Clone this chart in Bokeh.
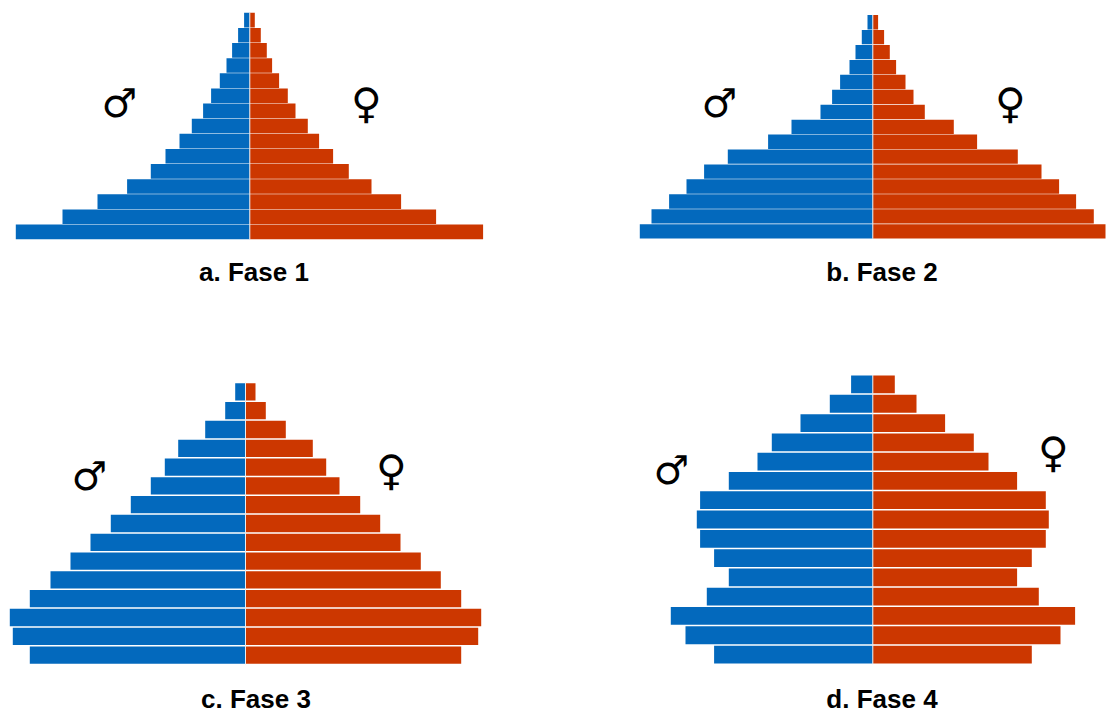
from bokeh.plotting import figure
from bokeh.layouts import column, row
from bokeh.models import Range1d, Label
from bokeh.embed import file_html
from bokeh.resources import INLINE

# Age rows listed from oldest (top) to youngest (bottom)
fase1_male = [5.7, 11.7, 17.7, 23.3, 30, 38.7, 46.7, 58, 70.3, 84.3, 99, 122.7, 152.3, 187.3, 234]
fase1_female = [5, 11, 17, 22.3, 29.3, 38, 45.7, 58, 69.3, 83.3, 99, 121.7, 151.3, 186.3, 233.3]
fase2_male = [5.3, 11, 17.3, 23.3, 32.7, 40.7, 52.3, 81.3, 104.7, 145, 168.7, 186.3, 203.7, 221.3, 233]
fase2_female = [5.3, 11.3, 17, 23.3, 32.7, 40.7, 52, 81, 104.3, 145, 168.7, 186.3, 203.3, 221, 232.7]
fase3_male = [10.3, 20.3, 40.3, 67.3, 80.7, 94.7, 114.7, 134.7, 155, 175, 195, 215.7, 235.7, 232.7, 215.7]
fase3_female = [10, 20.3, 40.3, 67.3, 80.7, 94, 114.7, 134.7, 155, 175.3, 195.3, 215.7, 235.7, 232.7, 215.7]
fase4_male = [21.7, 43, 72.3, 101, 115.3, 144, 172.7, 176, 172.7, 158.7, 144, 166, 202, 187.3, 158.7]
fase4_female = [22, 43.7, 72.3, 101, 115.7, 144.3, 173, 176, 173, 159, 144.3, 166, 202.3, 187.7, 159]
titles = ["a. Fase 1", "b. Fase 2", "c. Fase 3", "d. Fase 4"]
BLUE = "#0369BD"
RED = "#CC3700"
SEP = "#E9EEF2"


def panel(male, female, title, left, top, w, h, cx, ytop, ybot, gap, tx, ty, mx, my, fx, fy):
    n = len(male)
    step = (ybot - ytop) / n
    rows = list(range(n - 1, -1, -1))
    y0 = -0.5 - (top + h - ybot) / step
    p = figure(width=w, height=h, output_backend="svg", toolbar_location=None,
               x_range=Range1d(left - cx, left + w - cx),
               y_range=Range1d(y0, y0 + h / step),
               min_border=0, outline_line_color=None, background_fill_color="white")
    p.axis.visible = False
    p.grid.visible = False
    bh = 1 - gap / step
    p.hbar(y=rows, left=[-v for v in male], right=0, height=bh, fill_color=BLUE, line_color=None)
    p.hbar(y=rows, left=0, right=female, height=bh, fill_color=RED, line_color=None)
    p.segment(x0=[0], x1=[0], y0=[-0.5], y1=[n - 0.5], line_color=SEP, line_width=1)

    def lab(text, sx, sy, size, font, style):
        p.add_layout(Label(x=sx - left, y=top + h - sy, x_units="screen", y_units="screen", text=text,
                           text_align="center", text_baseline="middle", text_font_size=size,
                           text_font=font, text_font_style=style, text_color="black"))

    lab(title, tx, ty, "26px", "Liberation Sans", "bold")
    lab("\u2642", mx, my, "40px", "DejaVu Sans", "normal")
    lab("\u2640", fx, fy, "42px", "DejaVu Sans", "normal")
    return p


LW, RW = 560, 549
TH, BH = 320, 395
pa = panel(fase1_male, fase1_female, titles[0], 0, 0, LW, TH, 249.3, 12, 239, 0.5, 253.5, 271, 119, 102, 366, 103)
pb = panel(fase2_male, fase2_female, titles[1], LW, 0, RW, TH, 872.3, 14.3, 238.3, 0.6, 881.5, 271, 719, 102, 1010, 103)
pc = panel(fase3_male, fase3_female, titles[2], 0, TH, LW, BH, 245, 382, 664, 1.5, 255.5, 698, 89, 475.5, 391, 470)
pd = panel(fase4_male, fase4_female, titles[3], LW, TH, RW, BH, 872.3, 374.3, 663.7, 1.5, 881.5, 698, 671, 469, 1053, 452)

layout = column(row(pa, pb, spacing=0), row(pc, pd, spacing=0), spacing=0)
open("out.html", "w").write(file_html(layout, INLINE))
